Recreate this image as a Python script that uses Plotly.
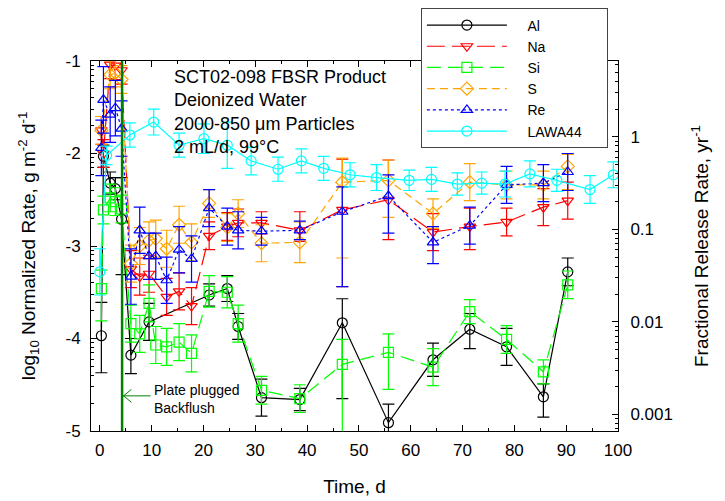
import numpy as np
import plotly.graph_objects as go

# ---------------- data ----------------
time_d = [0.3, 0.7, 2, 3, 4.2, 6, 7.7, 9.5, 10.8, 12.9, 15.3, 17.7, 21.1, 24.6, 26.7,
          31.2, 38.6, 46.8, 55.7, 64.3, 71.4, 78.5, 85.6, 90.3]

al = [-3.97, -2.03, -2.32, -2.38, -2.71, -4.18, None, -3.82, None, None, None, None,
      -3.53, -3.46, -3.87, -4.64, -4.66, -3.83, -4.91, -4.23, -3.90, -4.09, -4.63, -3.28]
al_up = [0.36, 0.12, 0.12, 0.12, 0.45, 0.18, 0, 0.2, 0, 0, 0, 0,
         0.12, 0.14, 0.14, 0.2, 0.12, 0.26, 0.2, 0.18, 0.17, 0.2, 0.14, 0.15]
al_dn = [0.40, 0.12, 0.12, 0.12, 0.6, 0.2, 0, 0.2, 0, 0, 0, 0,
         0.12, 0.14, 0.14, 0.2, 0.12, 0.82, 0.3, 0.18, 0.21, 0.2, 0.22, 0.15]

na = [-1.75, -2.0, -1.04, -1.05, -1.1, -3.25, -3.33, -3.30, None, -3.55, -3.49, -3.65,
      -2.89, -2.79, -2.75, -2.75, -2.83, -2.61, -2.50, -2.85, -2.79, -2.74, -2.58, -2.51]
na_up = [0.15, 0.15, 0.15, 0.15, 0.15, 0.2, 0.2, 0.2, 0, 0.2, 0.2, 0.2,
         0.15, 0.15, 0.15, 0.12, 0.2, 0.55, 0.43, 0.2, 0.2, 0.15, 0.2, 0.2]
na_dn = [0.15, 0.15, 0.15, 0.15, 0.15, 0.2, 0.2, 0.2, 0, 0.2, 0.2, 0.2,
         0.15, 0.15, 0.15, 0.12, 0.12, 0.83, 0.43, 0.2, 0.25, 0.15, 0.2, 0.2]

si = [-3.46, -2.61, -2.48, -2.52, -2.6, -3.84, -3.95, -3.62, -4.07, -4.09, -4.04, -4.16,
      -3.49, -3.50, -3.84, -4.56, -4.65, -4.28, -4.15, -4.31, -3.71, -4.01, -4.36, -3.42]
si_up = [0.2, 0.15, 0.15, 0.15, 0.15, 0.2, 0.2, 0.2, 0.2, 0.2, 0.2, 0.2,
         0.17, 0.17, 0.2, 0.15, 0.15, 0.27, 0.2, 0.2, 0.13, 0.15, 0.13, 0.15]
si_dn = [0.35, 0.15, 0.15, 0.15, 0.15, 0.2, 0.2, 0.2, 0.2, 0.2, 0.2, 0.2,
         0.17, 0.17, 0.2, 0.15, 0.15, 1.0, 0.4, 0.2, 0.13, 0.15, 0.13, 0.15]

s = [-1.75, None, -1.15, -1.13, -1.20, -3.19, -3.0, -2.94, -2.92, -3.03, -2.77, -2.96,
     -2.54, -2.80, -2.65, -2.97, -2.96, -2.31, -2.29, -2.65, -2.31, -2.34, -2.34, -2.14]
s_up = [0.15, 0, 0.15, 0.15, 0.15, 0.2, 0.2, 0.2, 0.2, 0.2, 0.2, 0.2,
        0.15, 0.15, 0.15, 0.2, 0.22, 0.26, 0.22, 0.16, 0.2, 0.15, 0.15, 0.13]
s_dn = [0.15, 0, 0.15, 0.15, 0.15, 0.2, 0.2, 0.2, 0.2, 0.2, 0.2, 0.2,
        0.15, 0.15, 0.15, 0.2, 0.22, 0.82, 0.4, 0.16, 0.2, 0.15, 0.15, 0.25]

re = [-1.94, -1.42, -1.58, -1.51, -1.73, -3.33, -2.83, -3.11, -3.11, -3.37, -3.04, -3.14,
      -2.59, -2.79, -2.83, -2.84, -2.83, -2.63, -2.46, -2.96, -2.78, -2.34, -2.32, -2.20]
re_up = [0.3, 0.36, 0.3, 0.3, 0.3, 0.3, 0.25, 0.25, 0.25, 0.25, 0.25, 0.25,
         0.2, 0.2, 0.2, 0.15, 0.1, 0.27, 0.23, 0.17, 0.2, 0.2, 0.2, 0.2]
re_dn = [0.3, 0.36, 0.3, 0.3, 0.3, 0.3, 0.25, 0.25, 0.25, 0.25, 0.25, 0.25,
         0.2, 0.2, 0.2, 0.15, 0.1, 0.81, 0.4, 0.23, 0.2, 0.2, 0.2, 0.2]

lawa_time = [0, 1.3, 5.8, 10.4, 15.3, 20.1, 24.6, 29.2, 34.4, 38.9, 43.2, 48.3, 53.4,
             59.7, 64.0, 69.0, 73.7, 78.2, 83.0, 88.2, 94.6, 99.1]
lawa = [-3.28, -2.02, -1.80, -1.66, -1.91, -1.84, -1.91, -2.08, -2.17, -2.08, -2.16,
        -2.23, -2.26, -2.29, -2.28, -2.33, -2.32, -2.33, -2.22, -2.29, -2.39, -2.23]
lawa_err = [0.25, 0.1, 0.13, 0.14, 0.13, 0.16, 0.25, 0.15, 0.13, 0.13, 0.13, 0.13,
            0.14, 0.11, 0.13, 0.12, 0.12, 0.14, 0.14, 0.12, 0.15, 0.14]

series_names = ["Al", "Na", "Si", "S", "Re", "LAWA44"]

backflush_day = 4.3
frac_offset = 1.82  # log10(fractional rate) = log10(normalized rate) + offset

info_lines = ["SCT02-098 FBSR Product", "Deionized Water",
              "2000-850 μm Particles", "2 mL/d, 99°C"]

FONT = "Liberation Sans, Arial, sans-serif"
NB = "\u00a0"

fig = go.Figure()

styles = [
    (time_d, al, al_up, al_dn, "black", "solid", "circle-open"),
    (time_d, na, na_up, na_dn, "red", "18px,7px", "triangle-down-open"),
    (time_d, si, si_up, si_dn, "#00ff00", "14px,7px", "square-open"),
    (time_d, s, s_up, s_dn, "#ffa500", "8px,5px", "diamond-open"),
    (time_d, re, re_up, re_dn, "blue", "dot", "triangle-up-open"),
    (lawa_time, lawa, lawa_err, lawa_err, "#00ffff", "solid", "circle-open"),
]

for name, (xs, ys, up, dn, col, dash, sym) in zip(series_names, styles):
    fig.add_trace(go.Scatter(
        x=xs, y=ys, name=NB * 4 + name + NB * 5, mode="lines+markers",
        connectgaps=True,
        line=dict(color=col, width=1.2, dash=dash),
        marker=dict(symbol=sym, size=10, color=col, line=dict(color=col, width=1.2)),
        error_y=dict(type="data", array=up, arrayminus=dn, color=col,
                     thickness=1.2, width=6),
        cliponaxis=True,
    ))

# dummy trace so the right axis is drawn
fig.add_trace(go.Scatter(x=[None], y=[None], yaxis="y2", showlegend=False,
                         hoverinfo="skip"))

left_minor = [d + np.log10(k) for d in range(-6, 0) for k in range(2, 10)
              if -5 <= d + np.log10(k) <= -1]
right_minor = [k * 10.0 ** d for d in range(-4, 1) for k in range(2, 10)
               if 10 ** (-5 + frac_offset) <= k * 10.0 ** d <= 10 ** (-1 + frac_offset)]

# the page body adds an 8px offset, so the figure is 8px smaller than the window
fig.update_layout(
    width=717, height=493,
    margin=dict(l=83, r=107, t=53, b=70, autoexpand=False),
    paper_bgcolor="white", plot_bgcolor="white",
    font=dict(family=FONT, size=17, color="black"),
    showlegend=True,
    legend=dict(
        x=0.626, y=1.142, xanchor="left", yanchor="top",
        bgcolor="white", bordercolor="#444", borderwidth=1,
        font=dict(family=FONT, size=14), tracegroupgap=0, itemwidth=80,
    ),
    xaxis=dict(
        range=[-1.7, 100], tickvals=list(range(0, 101, 10)),
        ticks="inside", ticklen=6, tickcolor="black",
        minor=dict(tickvals=list(range(5, 100, 10)), ticks="inside", ticklen=3,
                   tickcolor="black"),
        showline=True, linecolor="black", linewidth=1, mirror="ticks",
        showgrid=False, zeroline=False, automargin=False, ticklabelstandoff=4,
        title=dict(text="Time, d", font=dict(size=19), standoff=20),
        tickfont=dict(size=17),
    ),
    yaxis=dict(
        range=[-5, -1], tickvals=[-5, -4, -3, -2, -1],
        ticktext=["-5", "-4", "-3", "-2", "-1"],
        ticks="inside", ticklen=6, tickcolor="black",
        minor=dict(tickvals=left_minor, ticks="inside", ticklen=3, tickcolor="black"),
        showline=True, linecolor="black", linewidth=1, mirror=False,
        showgrid=False, zeroline=False, ticklabelstandoff=6, automargin=False,
        title=dict(text="log<sub>10</sub> Normalized Rate, g m<sup>-2</sup> d<sup>-1</sup>",
                   font=dict(size=19), standoff=24),
        tickfont=dict(size=17),
    ),
    yaxis2=dict(
        type="log", overlaying="y", side="right",
        range=[-5 + frac_offset, -1 + frac_offset],
        tickvals=[0.001, 0.01, 0.1, 1], ticktext=["0.001", "0.01", "0.1", "1"],
        ticks="inside", ticklen=6, tickcolor="black",
        minor=dict(tickvals=right_minor, ticks="inside", ticklen=3, tickcolor="black"),
        showline=True, linecolor="black", linewidth=1, automargin=False,
        showgrid=False, zeroline=False, ticklabelstandoff=8,
        title=dict(text="Fractional Release Rate, yr<sup>-1</sup>",
                   font=dict(size=19), standoff=22),
        tickfont=dict(size=17),
    ),
)

fig.add_shape(type="line", x0=backflush_day, x1=backflush_day, yref="paper",
              y0=0, y1=1, line=dict(color="#008000", width=2.5), layer="above")

# open arrow pointing at the backflush line
arrow_y = -4.62
for (xa, ya, xb, yb) in [
    (backflush_day, arrow_y, 9.8, arrow_y),
    (backflush_day + 0.3, arrow_y, backflush_day + 1.8, arrow_y + 0.07),
    (backflush_day + 0.3, arrow_y, backflush_day + 1.8, arrow_y - 0.07),
]:
    fig.add_shape(type="line", x0=xa, y0=ya, x1=xb, y1=yb, xref="x", yref="y",
                  line=dict(color="#008000", width=1), layer="above")

fig.add_annotation(
    x=13.9, y=-1.04, xref="x", yref="y", xanchor="left", yanchor="top",
    text="<br>".join(info_lines), align="left", showarrow=False,
    font=dict(family=FONT, size=18, color="black"),
)

fig.add_annotation(
    x=10.0, y=-4.65, xref="x", yref="y", xanchor="left", yanchor="middle",
    text="Plate plugged<br>Backflush", align="left", showarrow=False,
    font=dict(family=FONT, size=14, color="black"),
)

fig.write_html("out.html")
